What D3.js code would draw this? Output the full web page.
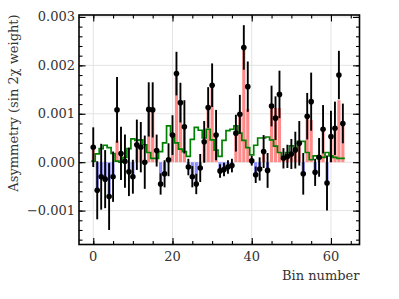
<!DOCTYPE html>
<html>
<head>
<meta charset="utf-8">
<script src="https://cdn.jsdelivr.net/npm/d3@7"></script>
<style>
  body { margin: 0; background: #fff; }
  svg text { font-family: "DejaVu Serif", "Liberation Serif", serif; fill: #333; }
</style>
</head>
<body>
<svg id="chart" width="399" height="299"></svg>
<script>
// measured asymmetry per bin
const asym = [0.00031, -0.00058, -0.0003, -0.00035, -0.00071, -0.0003, 0.00108, 0.00018,
  0.00002, -0.0002, -0.0003, 0.00036, 0.00031, 0.0, 0.00109, 0.00108,
  0.00024, -0.00045, -0.00024, 0.00005, 0.00056, 0.00183, 0.00123, 0.00073,
  -0.0001, -0.0003, -0.00045, -0.00012, 0.00042, 0.00113, 0.00159, 0.00056,
  -0.00018, -0.00015, -0.0001, -0.00007, 0.0006, 0.00099, 0.00237, 0.00156,
  0.00003, -0.00026, -0.00014, 0.00022, -0.00017, 0.00116, 0.00091, 0.0014,
  0.00008, 0.00012, 0.00017, 0.00025, 0.00039, -0.00024, 0.00095, 0.00125,
  -0.00021, 0.0001, 0.00068, -0.00043, 0.00053, 0.0007, 0.0018, 0.0008];
const asymErr = [0.00041, 0.0006, 0.00068, 0.0006, 0.00069, 0.00052, 0.00068, 0.00055,
  0.00055, 0.0005, 0.00035, 0.00052, 0.00052, 0.00055, 0.00056, 0.00057,
  0.00033, 0.00022, 0.00028, 0.00034, 0.00041, 0.00045, 0.00041, 0.00055,
  0.00017, 0.00022, 0.00021, 0.00029, 0.00043, 0.00042, 0.00045, 0.00052,
  0.00014, 0.00014, 0.00014, 0.00014, 0.00038, 0.0004, 0.00046, 0.00052,
  0.0001, 0.00017, 0.00024, 0.00034, 0.00036, 0.00042, 0.00045, 0.00049,
  0.00021, 0.00024, 0.00031, 0.00038, 0.00046, 0.00043, 0.00048, 0.0006,
  0.00028, 0.0004, 0.0005, 0.00057, 0.00053, 0.00055, 0.0005, 0.00041];
// shaded bars
const barVals = [0.00031, -0.00058, -0.0003, -0.00035, -0.00071, -0.0003, 0.00045, 0.00018,
  0.00002, -0.0002, -0.0003, 0.00036, 0.00031, 0.0, 0.00109, 0.00108,
  0.00024, -0.00045, -0.00024, 0.00005, 0.00056, 0.0018, 0.00123, 0.00073,
  -0.0001, -0.0003, -0.00045, -0.00012, 0.00042, 0.00108, 0.00159, 0.00056,
  -0.00018, -0.00015, -0.0001, -0.00007, 0.0006, 0.00095, 0.00232, 0.0011,
  0.00003, -0.00026, -0.00014, 0.00022, -0.00017, 0.00116, 0.00112, 0.00112,
  0.00008, 0.00012, 0.00017, 0.00025, 0.00039, -0.00024, 0.00095, 0.00087,
  -0.00021, 0.0001, 0.00068, -0.00043, 0.00053, 0.0007, 0.00128, 0.0008];
// green step curve
const stepVals = [0.00002, 0.00017, 0.00028, 0.00035, 0.0003, 0.00018, 0.00002, 0.0,
  0.0001, 0.00028, 0.00048, 0.00045, 0.00046, 0.00036, 0.0002, 0.00008,
  0.00008, 0.00022, 0.0004, 0.00075, 0.00056, 0.0004, 0.00027, 0.00022,
  0.00012, 0.00047, 0.00072, 0.00066, 0.0005, 0.00068, 0.00046, 0.00025,
  0.00012, 0.00045, 0.00065, 0.00068, 0.00075, 0.0006, 0.00045, 0.0003,
  0.00015, 0.00035, 0.0005, 0.0005, 0.00052, 0.00046, 0.00033, 0.0002,
  0.00012, 0.0002, 0.00034, 0.0003, 0.00043, 0.00043, 0.0002, 0.00005,
  0.00013, 0.00008, 0.0001, 0.0002, 0.00013, 0.0001, 0.00008, 0.00008];
const xTicks = [0, 20, 40, 60];
const yTicks = [-0.001, 0.0, 0.001, 0.002, 0.003];

const bins = asym.map((v, i) => i);

const svg = d3.select('#chart');
const pl = 79, pr = 359.5, pt = 15, pb = 244.5;

const x = d3.scaleLinear().domain([-3.6, 67.2]).range([pl, pr]);
const y = d3.scaleLinear().domain([-0.0017, 0.00304]).range([pb, pt]);

// grid
const grid = svg.append('g');
grid.selectAll('.gx').data(xTicks).enter().append('line')
  .attr('x1', d => x(d)).attr('x2', d => x(d))
  .attr('y1', pt).attr('y2', pb)
  .attr('stroke', '#e3e3e3').attr('stroke-width', 1);
grid.selectAll('.gy').data(yTicks).enter().append('line')
  .attr('x1', pl).attr('x2', pr)
  .attr('y1', d => y(d)).attr('y2', d => y(d))
  .attr('stroke', '#e3e3e3').attr('stroke-width', 1);

// bars
const bw = 0.8;
svg.append('g').selectAll('rect').data(bins).enter().append('rect')
  .attr('x', i => x(i - bw / 2))
  .attr('width', x(bw) - x(0))
  .attr('y', i => y(Math.max(0, barVals[i])))
  .attr('height', i => Math.abs(y(barVals[i]) - y(0)))
  .attr('fill', i => barVals[i] >= 0 ? '#ff8a8a' : '#8a8aff');

// green step line
const stepPts = [];
bins.forEach(i => {
  stepPts.push([i - 0.5, stepVals[i]]);
  stepPts.push([i + 0.5, stepVals[i]]);
});
svg.append('path')
  .datum(stepPts)
  .attr('d', d3.line().x(d => x(d[0])).y(d => y(d[1])))
  .attr('fill', 'none')
  .attr('stroke', '#008000')
  .attr('stroke-width', 1.7);

// error bars + points
svg.append('g').selectAll('line').data(bins).enter().append('line')
  .attr('x1', i => x(i)).attr('x2', i => x(i))
  .attr('y1', i => y(asym[i] - asymErr[i]))
  .attr('y2', i => y(asym[i] + asymErr[i]))
  .attr('stroke', '#000').attr('stroke-width', 1.9);
svg.append('g').selectAll('circle').data(bins).enter().append('circle')
  .attr('cx', i => x(i)).attr('cy', i => y(asym[i]))
  .attr('r', 2.8).attr('fill', '#000');

// axes with inward ticks on all sides
const xMinor = d3.range(0, 66, 5);
const yMinor = d3.range(-16, 31, 2).map(d => d * 0.0001);
function ticks(axisGen, tr, size) {
  svg.append('g').attr('transform', tr).call(axisGen.tickSize(size).tickFormat(''))
    .call(g => g.select('.domain').remove())
    .call(g => g.selectAll('line').attr('stroke', '#000').attr('stroke-width', 1.1));
}
ticks(d3.axisTop(x).tickValues(xTicks), `translate(0,${pb})`, 6.5);
ticks(d3.axisTop(x).tickValues(xMinor), `translate(0,${pb})`, 3.5);
ticks(d3.axisBottom(x).tickValues(xTicks), `translate(0,${pt})`, 6.5);
ticks(d3.axisBottom(x).tickValues(xMinor), `translate(0,${pt})`, 3.5);
ticks(d3.axisRight(y).tickValues(yTicks), `translate(${pl},0)`, 6.5);
ticks(d3.axisRight(y).tickValues(yMinor), `translate(${pl},0)`, 3.5);
ticks(d3.axisLeft(y).tickValues(yTicks), `translate(${pr},0)`, 6.5);
ticks(d3.axisLeft(y).tickValues(yMinor), `translate(${pr},0)`, 3.5);

// frame
svg.append('rect')
  .attr('x', pl).attr('y', pt)
  .attr('width', pr - pl).attr('height', pb - pt)
  .attr('fill', 'none').attr('stroke', '#000').attr('stroke-width', 1.6);

// tick labels
svg.append('g').selectAll('text').data(xTicks).enter().append('text')
  .attr('x', d => x(d)).attr('y', 261)
  .attr('text-anchor', 'middle').attr('font-size', 13)
  .text(d => d);
const fmt = d3.format('.3f');
svg.append('g').selectAll('text').data(yTicks).enter().append('text')
  .attr('x', 75).attr('y', d => y(d) + 4.5)
  .attr('text-anchor', 'end').attr('font-size', 13)
  .text(d => fmt(d).replace('-', '\u2212'));

// axis labels
svg.append('text')
  .attr('x', pr).attr('y', 280)
  .attr('text-anchor', 'end').attr('font-size', 13)
  .text('Bin number');
svg.append('text')
  .attr('transform', 'translate(18,103) rotate(-90)')
  .attr('text-anchor', 'middle').attr('font-size', 13)
  .text('Asymmetry (sin 2\u03c7 weight)');
</script>
</body>
</html>
